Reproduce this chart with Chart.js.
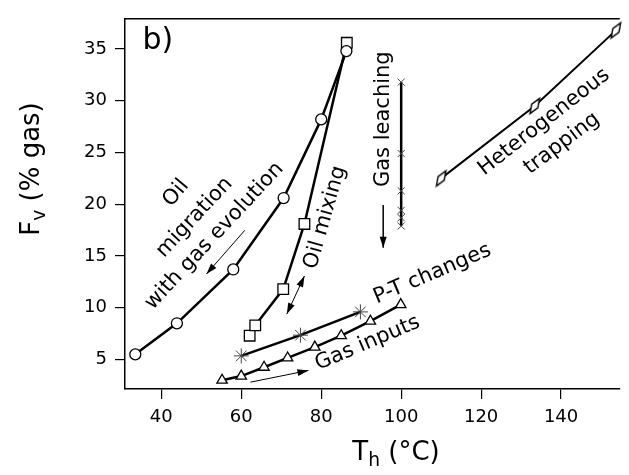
<!DOCTYPE html>
<html>
<head>
<meta charset="utf-8">
<script src="https://cdn.jsdelivr.net/npm/chart.js@4.4.1/dist/chart.umd.min.js"></script>
<style>
  html, body { margin: 0; padding: 0; background: #fff; }
  #wrap { width: 629px; height: 475px; }
</style>
</head>
<body>
<div id="wrap"><canvas id="chart"></canvas></div>
<script>
// tick labels
const xTicks = [40, 60, 80, 100, 120, 140];
const yTicks = [5, 10, 15, 20, 25, 30, 35];

// Oil migration with gas evolution (circles)
const oilMigT = [33.5, 43.9, 58.0, 70.6, 80.0, 86.3];
const oilMigF = [5.5, 8.5, 13.7, 20.6, 28.2, 34.8];
// Oil mixing (squares)
const oilMixT = [62.1, 63.5, 70.5, 75.8, 86.4];
const oilMixF = [7.3, 8.3, 11.8, 18.1, 35.6];
// P-T changes (asterisks)
const ptT = [60.0, 74.8, 89.8];
const ptF = [5.35, 7.35, 9.6];
// Gas inputs (triangles)
const gasInT = [55.2, 60.0, 65.7, 71.6, 78.4, 85.0, 92.3, 99.9];
const gasInF = [3.0, 3.4, 4.25, 5.15, 6.2, 7.3, 8.7, 10.3];
// Gas leaching (crosses)
const leachT = [100, 100, 100, 100, 100, 100];
const leachF = [17.9, 18.7, 19.4, 21.3, 24.9, 31.8];
// Heterogeneous trapping (diamonds)
const hetT = [110.0, 133.4, 153.7];
const hetF = [22.5, 29.5, 36.8];

const FONT = 'DejaVu Sans';

function pts(xs, ys) {
  return xs.map((x, i) => ({ x: x, y: ys[i] }));
}

// narrow tilted diamond marker
function makeDiamond() {
  const c = document.createElement('canvas');
  c.width = 20; c.height = 24;
  const g = c.getContext('2d');
  const cx = 10, cy = 12, L = 9, W = 3.6, a = 58 * Math.PI / 180;
  g.beginPath();
  g.moveTo(cx + L * Math.cos(a), cy - L * Math.sin(a));
  g.lineTo(cx + W * Math.sin(a), cy + W * Math.cos(a));
  g.lineTo(cx - L * Math.cos(a), cy + L * Math.sin(a));
  g.lineTo(cx - W * Math.sin(a), cy - W * Math.cos(a));
  g.closePath();
  g.fillStyle = '#fff';
  g.fill();
  g.strokeStyle = '#000';
  g.lineWidth = 1.4;
  g.stroke();
  return c;
}

// labels placed in data units
const notes = [
  { text: 'b)', x: 35.3, y: 35.76, rot: 0, size: 30, align: 'left' },
  { text: 'Oil', x: 43.7, y: 21.07, rot: -50 },
  { text: 'migration', x: 48.3, y: 18.72, rot: -47 },
  { text: 'with gas evolution', x: 53.3, y: 16.93, rot: -47 },
  { text: 'Oil mixing', x: 81.0, y: 18.72, rot: -74 },
  { text: 'Gas leaching', x: 95.5, y: 28.22, rot: -90 },
  { text: 'Heterogeneous', x: 135.75, y: 27.94, rot: -38 },
  { text: 'trapping', x: 140.2, y: 25.87, rot: -37 },
  { text: 'P-T changes', x: 107.8, y: 13.26, rot: -23 },
  { text: 'Gas inputs', x: 91.6, y: 6.57, rot: -23 }
];

const arrows = [
  { x1: 60.9, y1: 17.49, x2: 51.3, y2: 13.26, both: false, w: 1 },
  { x1: 75.8, y1: 13.07, x2: 71.4, y2: 9.39, both: true, w: 1 },
  { x1: 95.5, y1: 19.94, x2: 95.5, y2: 15.8, both: false, w: 1.5 },
  { x1: 62.3, y1: 2.81, x2: 76.8, y2: 3.94, both: false, w: 1 }
];

function head(ctx, x1, y1, x2, y2) {
  const a = Math.atan2(y2 - y1, x2 - x1);
  const len = 11, hw = 3.5;
  ctx.beginPath();
  ctx.moveTo(x2, y2);
  ctx.lineTo(x2 - len * Math.cos(a) + hw * Math.sin(a), y2 - len * Math.sin(a) - hw * Math.cos(a));
  ctx.lineTo(x2 - len * Math.cos(a) - hw * Math.sin(a), y2 - len * Math.sin(a) + hw * Math.cos(a));
  ctx.closePath();
  ctx.fill();
}

const extras = {
  id: 'extras',
  afterDraw(chart) {
    const ctx = chart.ctx;
    const xs = chart.scales.x, ys = chart.scales.y;
    const area = chart.chartArea;
    ctx.save();
    ctx.fillStyle = '#000';
    ctx.strokeStyle = '#000';

    // top frame line
    ctx.lineWidth = 1.5;
    ctx.beginPath();
    ctx.moveTo(area.left, area.top);
    ctx.lineTo(area.right, area.top);
    ctx.stroke();

    // arrows
    arrows.forEach(a => {
      const x1 = xs.getPixelForValue(a.x1), y1 = ys.getPixelForValue(a.y1);
      const x2 = xs.getPixelForValue(a.x2), y2 = ys.getPixelForValue(a.y2);
      ctx.lineWidth = a.w;
      ctx.beginPath();
      ctx.moveTo(x1, y1);
      ctx.lineTo(x2, y2);
      ctx.stroke();
      head(ctx, x1, y1, x2, y2);
      if (a.both) head(ctx, x2, y2, x1, y1);
    });

    // annotations
    notes.forEach(n => {
      ctx.save();
      ctx.translate(xs.getPixelForValue(n.x), ys.getPixelForValue(n.y));
      ctx.rotate(n.rot * Math.PI / 180);
      ctx.font = (n.size || 21) + 'px "' + FONT + '"';
      ctx.textAlign = n.align || 'center';
      ctx.textBaseline = 'middle';
      ctx.fillText(n.text, 0, 0);
      ctx.restore();
    });

    // axis titles with subscripts
    function subText(parts, cx, cy, rot, size) {
      ctx.save();
      ctx.translate(cx, cy);
      ctx.rotate(rot);
      ctx.textBaseline = 'alphabetic';
      ctx.textAlign = 'left';
      let total = 0;
      parts.forEach(p => {
        ctx.font = (p.sub ? size * 0.72 : size) + 'px "' + FONT + '"';
        total += ctx.measureText(p.t).width;
      });
      let x = -total / 2;
      parts.forEach(p => {
        ctx.font = (p.sub ? size * 0.72 : size) + 'px "' + FONT + '"';
        ctx.fillText(p.t, x, size * 0.36 + (p.sub ? size * 0.2 : 0));
        x += ctx.measureText(p.t).width;
      });
      ctx.restore();
    }
    subText([{ t: 'F' }, { t: 'v', sub: true }, { t: ' (% gas)' }], 30, 169, -Math.PI / 2, 26);
    subText([{ t: 'T' }, { t: 'h', sub: true }, { t: ' (\u00B0C)' }], 396, 451, 0, 26);

    ctx.restore();
  }
};

const lineBase = {
  showLine: true,
  borderColor: '#000',
  borderWidth: 2.5,
  pointBackgroundColor: '#fff',
  pointBorderColor: '#000',
  pointBorderWidth: 1.3,
  tension: 0,
  clip: false
};

const datasets = [
  Object.assign({}, lineBase, { data: pts(oilMigT, oilMigF), pointStyle: 'circle', pointRadius: 5.5 }),
  Object.assign({}, lineBase, { data: pts(oilMixT, oilMixF), pointStyle: 'rect', pointRadius: 7.5 }),
  Object.assign({}, lineBase, { data: pts(ptT, ptF), pointStyle: 'star', pointRadius: 7.5, pointBorderColor: '#444', pointBorderWidth: 1 }),
  Object.assign({}, lineBase, { data: pts(gasInT, gasInF), pointStyle: 'triangle', pointRadius: 6 }),
  Object.assign({}, lineBase, { data: pts(leachT, leachF), pointStyle: 'crossRot', pointRadius: 5, pointBorderColor: '#444', pointBorderWidth: 1 }),
  Object.assign({}, lineBase, { data: pts(hetT, hetF), pointStyle: makeDiamond(), pointRadius: 8, borderWidth: 2 })
];

const axisCommon = {
  type: 'linear',
  grid: { display: true, drawOnChartArea: false, drawTicks: true, tickLength: 10, color: '#000', lineWidth: 1.2 },
  border: { display: true, color: '#000', width: 1.5 },
  ticks: { font: { family: FONT, size: 18 }, color: '#000', padding: 8, maxRotation: 0 }
};

new Chart(document.getElementById('chart'), {
  type: 'scatter',
  data: { datasets: datasets },
  options: {
    responsive: true,
    maintainAspectRatio: false,
    animation: false,
    layout: { padding: { top: 9, right: 0, left: 0, bottom: 0 } },
    plugins: { legend: { display: false }, tooltip: { enabled: false } },
    scales: {
      x: Object.assign({}, axisCommon, {
        min: 30.92, max: 154.66,
        afterBuildTicks: s => { s.ticks = xTicks.map(v => ({ value: v })); },
        afterFit: s => { s.height = 86; }
      }),
      y: Object.assign({}, axisCommon, {
        min: 2.15, max: 37.92,
        afterBuildTicks: s => { s.ticks = yTicks.map(v => ({ value: v })); },
        afterFit: s => { s.width = 125; }
      })
    }
  },
  plugins: [extras]
});
</script>
</body>
</html>
